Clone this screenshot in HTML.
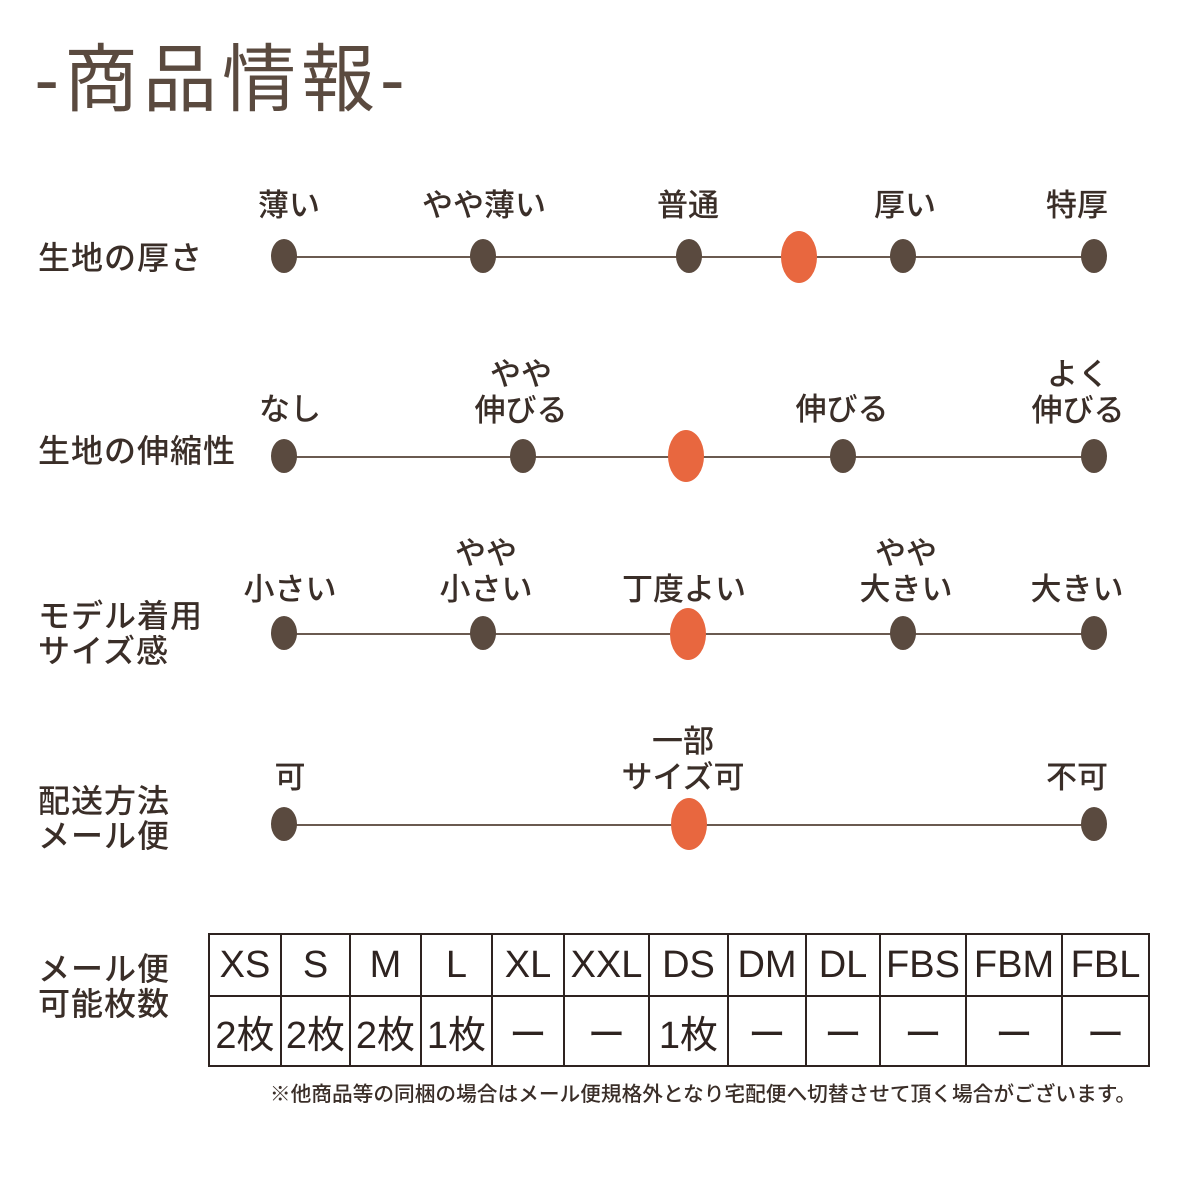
<!DOCTYPE html>
<html><head><meta charset="utf-8"><style>
body{margin:0;width:1200px;height:1200px;background:#fff;position:relative;overflow:hidden;font-family:"Liberation Sans","Noto Sans CJK JP",sans-serif;color:#3a2e28}
.t{position:absolute;white-space:nowrap;font-size:31px;line-height:36px;transform:translate(-50%,-50%);text-align:center;font-weight:500}
.s{position:absolute;white-space:nowrap;font-size:32px;line-height:35px;letter-spacing:1px;font-weight:500}
.d{position:absolute;width:26px;height:34px;border-radius:50%;background:#5a4a3f;transform:translate(-50%,-50%)}
.o{position:absolute;width:36px;height:52px;border-radius:50%;background:#e8673f;transform:translate(-50%,-50%)}
.l{position:absolute;height:1.5px;background:#6a5a50;left:284px;width:810px}
table{position:absolute;left:208px;top:933px;border-collapse:collapse}
td{border:2px solid #2e2320;text-align:center;font-size:38px;padding:0;color:#2e2320}
tr.h td{height:60px}
tr.b td{height:68px}
</style></head><body>
<div class="t" style="left:222px;top:80px;font-size:74px;line-height:80px;color:#5a4a3f;letter-spacing:5px;font-weight:normal">-商品情報-</div>

<div class="s" style="left:38px;top:241px">生地の厚さ</div>
<div class="l" style="top:256px"></div>
<div class="t" style="left:289px;top:206px">薄い</div>
<div class="t" style="left:484px;top:206px">やや薄い</div>
<div class="t" style="left:688px;top:206px">普通</div>
<div class="t" style="left:905px;top:206px">厚い</div>
<div class="t" style="left:1077px;top:206px">特厚</div>
<div class="d" style="left:284px;top:256px"></div><div class="d" style="left:483px;top:256px"></div><div class="d" style="left:689px;top:256px"></div><div class="d" style="left:903px;top:256px"></div><div class="d" style="left:1094px;top:256px"></div>
<div class="o" style="left:799px;top:257px"></div>

<div class="s" style="left:38px;top:434px">生地の伸縮性</div>
<div class="l" style="top:456px"></div>
<div class="t" style="left:290px;top:410px">なし</div>
<div class="t" style="left:521px;top:393px">やや<br>伸びる</div>
<div class="t" style="left:842px;top:410px">伸びる</div>
<div class="t" style="left:1078px;top:393px">よく<br>伸びる</div>
<div class="d" style="left:284px;top:456px"></div><div class="d" style="left:523px;top:456px"></div><div class="d" style="left:843px;top:456px"></div><div class="d" style="left:1094px;top:456px"></div>
<div class="o" style="left:686px;top:456px"></div>

<div class="s" style="left:38px;top:599px">モデル着用<br>サイズ感</div>
<div class="l" style="top:633px"></div>
<div class="t" style="left:290px;top:590px">小さい</div>
<div class="t" style="left:486px;top:572px">やや<br>小さい</div>
<div class="t" style="left:684px;top:590px">丁度よい</div>
<div class="t" style="left:906px;top:572px">やや<br>大きい</div>
<div class="t" style="left:1077px;top:590px">大きい</div>
<div class="d" style="left:284px;top:633px"></div><div class="d" style="left:483px;top:633px"></div><div class="d" style="left:903px;top:633px"></div><div class="d" style="left:1094px;top:633px"></div>
<div class="o" style="left:688px;top:634px"></div>

<div class="s" style="left:38px;top:784px">配送方法<br>メール便</div>
<div class="l" style="top:824px"></div>
<div class="t" style="left:290px;top:778px">可</div>
<div class="t" style="left:683px;top:760px">一部<br>サイズ可</div>
<div class="t" style="left:1077px;top:778px">不可</div>
<div class="d" style="left:284px;top:824px"></div><div class="d" style="left:1094px;top:824px"></div>
<div class="o" style="left:689px;top:824px"></div>

<div class="s" style="left:38px;top:952px">メール便<br>可能枚数</div>
<table>
<tr class="h"><td style="width:70px">XS</td><td style="width:67px">S</td><td style="width:69px">M</td><td style="width:69px">L</td><td style="width:70px">XL</td><td style="width:83px">XXL</td><td style="width:77px">DS</td><td style="width:76px">DM</td><td style="width:72px">DL</td><td style="width:84px">FBS</td><td style="width:94px">FBM</td><td style="width:85px">FBL</td></tr>
<tr class="b"><td>2枚</td><td>2枚</td><td>2枚</td><td>1枚</td><td>ー</td><td>ー</td><td>1枚</td><td>ー</td><td>ー</td><td>ー</td><td>ー</td><td>ー</td></tr>
</table>
<div class="t" style="left:703px;top:1095px;font-size:20.7px">※他商品等の同梱の場合はメール便規格外となり宅配便へ切替させて頂く場合がございます。</div>
</body></html>
